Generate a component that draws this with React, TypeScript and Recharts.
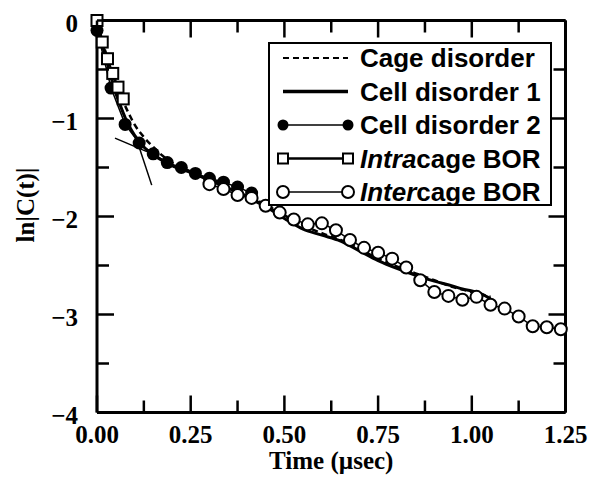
import { LineChart, Line, XAxis, YAxis, Legend } from 'recharts'

// time axis (usec) and ln|C(t)| axis ticks
const xTicks = [0, 0.125, 0.25, 0.375, 0.5, 0.625, 0.75, 0.875, 1.0, 1.125, 1.25]
const yTicks = [-4, -3.5, -3, -2.5, -2, -1.5, -1, -0.5, 0]

// Cage disorder (dashed)
const cageT = [0, 0.0125, 0.025, 0.0375, 0.05, 0.0625, 0.075, 0.0875, 0.1, 0.125, 0.15, 0.175, 0.2, 0.25, 0.3, 0.35, 0.4, 0.45, 0.5, 0.55, 0.6, 0.65, 0.7, 0.75, 0.8, 0.85, 0.9, 0.95, 1.0, 1.05]
const cageLn = [0, -0.18, -0.35, -0.5, -0.64, -0.76, -0.87, -0.97, -1.06, -1.19, -1.29, -1.38, -1.45, -1.54, -1.62, -1.7, -1.79, -1.88, -1.99, -2.09, -2.17, -2.24, -2.33, -2.43, -2.51, -2.58, -2.65, -2.72, -2.77, -2.82]

// Cell disorder 1 (solid)
const cell1T = [0, 0.0125, 0.025, 0.0375, 0.05, 0.0625, 0.075, 0.0875, 0.1, 0.125, 0.15, 0.175, 0.2, 0.25, 0.3, 0.35, 0.4, 0.45, 0.5, 0.55, 0.6, 0.65, 0.7, 0.75, 0.8, 0.85, 0.9, 0.95, 0.975, 1.0, 1.025, 1.05]
const cell1Ln = [0, -0.22, -0.4, -0.58, -0.74, -0.87, -0.99, -1.09, -1.17, -1.29, -1.37, -1.43, -1.48, -1.55, -1.63, -1.71, -1.8, -1.9, -2.02, -2.13, -2.19, -2.25, -2.35, -2.45, -2.53, -2.6, -2.66, -2.71, -2.74, -2.76, -2.79, -2.84]

// Cell disorder 2 (filled circles)
const cell2T = [0, 0.0375, 0.075, 0.1125, 0.15, 0.1875, 0.225, 0.2625, 0.3, 0.3375, 0.375, 0.4125]
const cell2Ln = [-0.1, -0.69, -1.06, -1.25, -1.36, -1.45, -1.5, -1.56, -1.61, -1.65, -1.7, -1.76]

// Intracage BOR (open squares)
const intraT = [0, 0.014, 0.028, 0.042, 0.056, 0.07]
const intraLn = [0, -0.22, -0.39, -0.54, -0.68, -0.8]

// Intercage BOR (open circles)
const interT = [0.3, 0.3375, 0.375, 0.4125, 0.45, 0.4875, 0.525, 0.5625, 0.6, 0.6375, 0.675, 0.7125, 0.75, 0.7875, 0.825, 0.8625, 0.9, 0.9375, 0.975, 1.0125, 1.05, 1.0875, 1.125, 1.1625, 1.2, 1.2375]
const interLn = [-1.67, -1.72, -1.78, -1.81, -1.89, -1.96, -2.03, -2.08, -2.07, -2.14, -2.24, -2.32, -2.37, -2.43, -2.52, -2.65, -2.77, -2.81, -2.85, -2.82, -2.9, -2.94, -3.02, -3.12, -3.13, -3.15]

// two thin tangent guide lines near the knee
const tanAT = [0.048, 0.163]
const tanALn = [-1.2, -1.386]
const tanBT = [0.106, 0.146]
const tanBLn = [-1.216, -1.68]

const legendLabels = ['Cage disorder', 'Cell disorder 1', 'Cell disorder 2', 'Intracage BOR', 'Intercage BOR']

const pts = (xs: number[], ys: number[]) => xs.map((x, i) => ({ x, y: ys[i] }))

const serif = '"Liberation Serif", "Times New Roman", serif'
const sans = '"Liberation Sans", Arial, Helvetica, sans-serif'

const isMajorX = (v: number) => Math.abs(v * 4 - Math.round(v * 4)) < 1e-6
const isMajorY = (v: number) => Number.isInteger(v)
const fmtY = (v: number) => (v === 0 ? '0' : '\u2212' + Math.abs(v))

function BottomTick({ x, y, payload }: any) {
  const v = payload.value
  const major = isMajorX(v)
  return (
    <g>
      <line x1={x} x2={x} y1={y} y2={y - (major ? 17 : 12)} stroke="#000" strokeWidth={2.5} />
      {major && (
        <text x={x} y={y + 30} textAnchor="middle" fontFamily={serif} fontWeight="bold" fontSize={25} fill="#000">
          {v.toFixed(2)}
        </text>
      )}
    </g>
  )
}

function TopTick({ x, y, payload }: any) {
  const major = isMajorX(payload.value)
  return <line x1={x} x2={x} y1={y} y2={y + (major ? 17 : 12)} stroke="#000" strokeWidth={2.5} />
}

function LeftTick({ x, y, payload }: any) {
  const v = payload.value
  const major = isMajorY(v)
  return (
    <g>
      <line x1={x} x2={x + (major ? 17 : 12)} y1={y} y2={y} stroke="#000" strokeWidth={2.5} />
      {major && (
        <text x={x - 19} y={y + 11} textAnchor="end" fontFamily={serif} fontWeight="bold" fontSize={25} fill="#000">
          {fmtY(v)}
        </text>
      )}
    </g>
  )
}

function RightTick({ x, y, payload }: any) {
  const major = isMajorY(payload.value)
  return <line x1={x} x2={x - (major ? 17 : 12)} y1={y} y2={y} stroke="#000" strokeWidth={2.5} />
}

function SquareDot({ cx, cy }: any) {
  if (cx == null || cy == null) return null
  return <rect x={cx - 5.5} y={cy - 5.5} width={11} height={11} fill="#fff" stroke="#000" strokeWidth={2} />
}

function LegendBox() {
  const rows = [16, 49.5, 83, 116.5, 150]
  const x1 = 15
  const x2 = 80
  return (
    <svg width={284} height={164} style={{ display: 'block' }}>
      <rect x={1} y={1} width={282} height={162} fill="#fff" stroke="#000" strokeWidth={2} />
      <line x1={x1} x2={x2} y1={rows[0]} y2={rows[0]} stroke="#000" strokeWidth={2} strokeDasharray="6 4" />
      <line x1={x1} x2={x2} y1={rows[1]} y2={rows[1]} stroke="#000" strokeWidth={3.5} />
      <line x1={x1} x2={x2} y1={rows[2]} y2={rows[2]} stroke="#000" strokeWidth={1.5} />
      <circle cx={x1} cy={rows[2]} r={5.5} fill="#000" />
      <circle cx={x2} cy={rows[2]} r={5.5} fill="#000" />
      <line x1={x1} x2={x2} y1={rows[3]} y2={rows[3]} stroke="#000" strokeWidth={2.5} />
      <rect x={x1 - 5} y={rows[3] - 5} width={10} height={10} fill="#fff" stroke="#000" strokeWidth={2} />
      <rect x={x2 - 5} y={rows[3] - 5} width={10} height={10} fill="#fff" stroke="#000" strokeWidth={2} />
      <line x1={x1} x2={x2} y1={rows[4]} y2={rows[4]} stroke="#000" strokeWidth={1.5} />
      <circle cx={x1} cy={rows[4]} r={6} fill="#fff" stroke="#000" strokeWidth={2} />
      <circle cx={x2} cy={rows[4]} r={6} fill="#fff" stroke="#000" strokeWidth={2} />
      {legendLabels.map((label, i) => {
        const italic = i >= 3
        const head = italic ? label.slice(0, 5) : ''
        const rest = italic ? label.slice(5) : label
        return (
          <text key={label} x={92} y={rows[i] + 9} fontFamily={sans} fontWeight="bold" fontSize={26} fill="#000">
            {italic && <tspan fontStyle="italic">{head}</tspan>}
            <tspan>{rest}</tspan>
          </text>
        )
      })}
    </svg>
  )
}

export default function App() {
  return (
    <div style={{ position: 'fixed', left: 0, top: 0, width: 589, height: 478, overflow: 'hidden', background: '#fff' }}>
      <LineChart width={589} height={478} margin={{ top: 19.5, right: 22.5, bottom: 0, left: 0 }}>
        <XAxis
          xAxisId="b"
          type="number"
          dataKey="x"
          domain={[0, 1.25]}
          ticks={xTicks}
          interval={0}
          height={65.5}
          tickSize={0}
          tickMargin={0}
          tickLine={false}
          axisLine={{ stroke: '#000', strokeWidth: 3 }}
          tick={<BottomTick />}
          label={{
            content: ({ viewBox }: any) => (
              <text x={viewBox.x + viewBox.width / 2} y={469} textAnchor="middle" fontFamily={serif} fontWeight="bold" fontSize={25} fill="#000">
                Time (µsec)
              </text>
            ),
          }}
        />
        <XAxis
          xAxisId="t"
          orientation="top"
          type="number"
          dataKey="x"
          domain={[0, 1.25]}
          allowDataOverflow
          ticks={xTicks}
          interval={0}
          height={1}
          tickSize={0}
          tickMargin={0}
          tickLine={false}
          axisLine={{ stroke: '#000', strokeWidth: 3 }}
          tick={<TopTick />}
        />
        <YAxis
          yAxisId="l"
          type="number"
          domain={[-4, 0]}
          ticks={yTicks}
          interval={0}
          width={97}
          tickSize={0}
          tickMargin={0}
          tickLine={false}
          axisLine={{ stroke: '#000', strokeWidth: 3 }}
          tick={<LeftTick />}
          label={{
            content: () => (
              <text
                x={25}
                y={205}
                transform="rotate(-90 25 205)"
                textAnchor="middle"
                dominantBaseline="central"
                fontFamily={serif}
                fontWeight="bold"
                fontSize={25}
                fill="#000"
              >
                ln|C(t)|
              </text>
            ),
          }}
        />
        <YAxis
          yAxisId="r"
          orientation="right"
          type="number"
          domain={[-4, 0]}
          allowDataOverflow
          ticks={yTicks}
          interval={0}
          width={1}
          tickSize={0}
          tickMargin={0}
          tickLine={false}
          axisLine={{ stroke: '#000', strokeWidth: 3 }}
          tick={<RightTick />}
        />
        <Legend
          layout="vertical"
          align="center"
          verticalAlign="middle"
          content={() => <LegendBox />}
          wrapperStyle={{ position: 'absolute', left: 268, top: 42, width: 284, height: 164 }}
        />
        <Line
          xAxisId="b"
          yAxisId="l"
          data={pts(cageT, cageLn)}
          dataKey="y"
          name="Cage disorder"
          type="monotone"
          stroke="#000"
          strokeWidth={2.5}
          strokeDasharray="6 4"
          dot={false}
          isAnimationActive={false}
        />
        <Line
          xAxisId="b"
          yAxisId="l"
          data={pts(cell1T, cell1Ln)}
          dataKey="y"
          name="Cell disorder 1"
          type="monotone"
          stroke="#000"
          strokeWidth={3}
          dot={false}
          isAnimationActive={false}
        />
        <Line xAxisId="b" yAxisId="l" data={pts(tanAT, tanALn)} dataKey="y" stroke="#000" strokeWidth={1.5} dot={false} legendType="none" isAnimationActive={false} />
        <Line xAxisId="b" yAxisId="l" data={pts(tanBT, tanBLn)} dataKey="y" stroke="#000" strokeWidth={1.5} dot={false} legendType="none" isAnimationActive={false} />
        <Line
          xAxisId="b"
          yAxisId="l"
          data={pts(cell2T, cell2Ln)}
          dataKey="y"
          name="Cell disorder 2"
          stroke="#000"
          strokeWidth={1.5}
          dot={{ r: 6.5, fill: '#000', stroke: '#000', strokeWidth: 0 }}
          isAnimationActive={false}
        />
        <Line
          xAxisId="b"
          yAxisId="l"
          data={pts(intraT, intraLn)}
          dataKey="y"
          name="Intracage BOR"
          stroke="#000"
          strokeWidth={2}
          dot={<SquareDot />}
          isAnimationActive={false}
        />
        <Line
          xAxisId="b"
          yAxisId="l"
          data={pts(interT, interLn)}
          dataKey="y"
          name="Intercage BOR"
          stroke="#000"
          strokeWidth={1.5}
          dot={{ r: 6, fill: '#fff', stroke: '#000', strokeWidth: 2 }}
          isAnimationActive={false}
        />
      </LineChart>
    </div>
  )
}
